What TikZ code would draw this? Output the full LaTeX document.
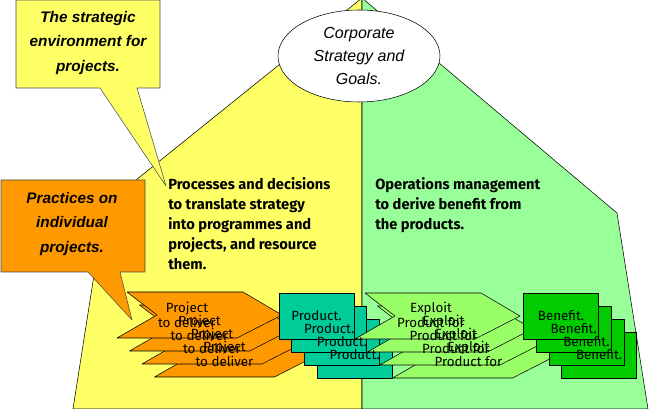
\documentclass[tikz,border=0pt]{standalone}
\usepackage{fontspec}
\setmainfont{Liberation Sans}
\newfontfamily\comicfont{Fira Sans}
\usetikzlibrary{shapes.geometric}
\definecolor{houseyellow}{RGB}{255,255,102}
\definecolor{housegreen}{RGB}{153,255,153}
\definecolor{projorange}{RGB}{255,153,0}
\definecolor{exploitgreen}{RGB}{153,255,102}
\definecolor{prodteal}{RGB}{0,204,153}
\definecolor{benefitgreen}{RGB}{0,204,0}
\tikzset{
  chevron/.pic={\draw[pic actions] (0,0) -- (116,0) -- (155,23) -- (110,46) -- (-10,46) -- (30,23) -- cycle;},
  callout/.style={draw=black!70},
  calltext/.style={font=\fontsize{11.5}{18.5}\selectfont\bfseries\itshape, align=center},
  smalltext/.style={font=\comicfont\fontsize{10}{11.3}\selectfont, align=center, inner sep=0pt},
  proctext/.style={font=\comicfont\bfseries\fontsize{11}{15}\selectfont, align=left, inner sep=0pt, anchor=north west},
  prodbox/.style={draw, fill=prodteal, minimum width=56.25pt, minimum height=34.5pt, inner sep=0pt},
  benbox/.style={draw, fill=benefitgreen, minimum width=56.25pt, minimum height=34.5pt, inner sep=0pt},
}
\begin{document}
\begin{tikzpicture}[x=0.75pt, y=-0.75pt, line join=round]
  \useasboundingbox (0,0) rectangle (650,409);
  % the house
  \draw[fill=houseyellow] (73,409) -- (105,205) -- (362,-2) -- (362,409) -- cycle;
  \draw[fill=housegreen] (362,409) -- (362,-2) -- (617,213) -- (648,409) -- cycle;
  % stacks, back to front
  \foreach \i in {3,2,1,0}
    \pic[fill=projorange] at (127+12.5*\i, 292+13*\i) {chevron};
  \foreach \i in {3,2,1,0}
    \node[prodbox] (prod\i) at (316.5+12.7*\i, 316+13*\i) {};
  \foreach \i in {3,2,1,0}
    \pic[fill=exploitgreen] at (365+12.5*\i, 293+13*\i) {chevron};
  \foreach \i in {3,2,1,0}
    \node[benbox] (ben\i) at (561+12.7*\i, 316+13*\i) {};
  % texts on top
  \foreach \i in {0,...,3} {
    \node[smalltext] (projtxt\i) at (187+12.5*\i, 315+13*\i) {Project\\to deliver};
    \node[smalltext] (prodtxt\i) at (prod\i) {Product.};
    \node[smalltext] (exptxt\i) at (431+12.5*\i, 315+13*\i) {Exploit\\Product for};
    \node[smalltext] (bentxt\i) at (ben\i) {Benefit.};
  }
  % callouts
  \draw[callout, fill=houseyellow] (16,0) -- (160,0) -- (160,88) -- (137,88) -- (166,186) -- (100,88) -- (16,88) -- cycle;
  \node[calltext] (strat) at (88,43) {The strategic\\environment for\\projects.};
  \draw[callout, fill=projorange] (1,180) -- (145,180) -- (145,272) -- (120,272) -- (132,320) -- (88,272) -- (1,272) -- cycle;
  \node[calltext] (pract) at (72,224) {Practices on\\individual\\projects.};
  \node[draw, fill=white, ellipse, minimum width=121.5pt, minimum height=69pt, inner sep=0pt,
    font=\fontsize{12}{17.25}\selectfont\itshape, align=center] (goals) at (359,56)
    {Corporate\\Strategy and\\Goals.};
  \node[proctext] (procs) at (168,177) {Processes and decisions\\to translate strategy\\into programmes and\\projects, and resource\\them.};
  \node[proctext] (ops) at (375,177) {Operations management\\to derive benefit from\\the products.};
\end{tikzpicture}
\end{document}
